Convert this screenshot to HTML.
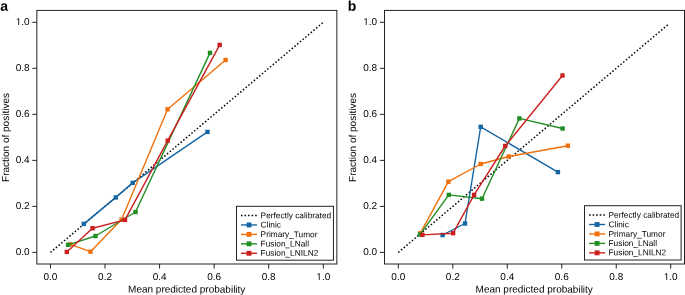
<!DOCTYPE html>
<html><head><meta charset="utf-8"><title>Calibration curves</title><style>
html,body{margin:0;padding:0;background:#fff;}
body{width:685px;height:295px;overflow:hidden;}
svg{display:block;will-change:transform;text-rendering:geometricPrecision;filter:blur(0.3px);}
.t{font-family:"Liberation Sans",sans-serif;font-size:10px;fill:#000;}
.lg{font-family:"Liberation Sans",sans-serif;font-size:8.3px;fill:#000;}
.pl{font-family:"Liberation Sans",sans-serif;font-size:14px;font-weight:bold;fill:#000;}
</style></head><body>
<svg width="685" height="295" viewBox="0 0 685 295">
<rect width="685" height="295" fill="#fff"/>
<defs><clipPath id="c1_0" clipPathUnits="userSpaceOnUse"><path clip-rule="evenodd" d="M-20 -20H40V20H-20Z M-0.3 -1.2H2.48V0.6H-0.3Z M3.43 -1.2H5.52V0.6H3.43Z"/></clipPath><clipPath id="c1_1" clipPathUnits="userSpaceOnUse"><path clip-rule="evenodd" d="M-20 -20H40V20H-20Z M-0.3 -1.2H2.48V0.6H-0.3Z M3.43 -1.2H5.52V0.6H3.43Z"/></clipPath><clipPath id="c1_2" clipPathUnits="userSpaceOnUse"><path clip-rule="evenodd" d="M-20 -20H40V20H-20Z M-0.3 -1.2H2.48V0.6H-0.3Z M3.43 -1.2H5.52V0.6H3.43Z"/></clipPath><clipPath id="c1_3" clipPathUnits="userSpaceOnUse"><path clip-rule="evenodd" d="M-20 -20H40V20H-20Z M-0.3 -1.2H2.48V0.6H-0.3Z M3.43 -1.2H5.52V0.6H3.43Z"/></clipPath></defs>
<line x1="50.45" y1="252.42" x2="323.3" y2="22.3" stroke="#000" stroke-width="1.5" stroke-dasharray="1.5 2.047"/>
<polyline fill="none" stroke="#1566a3" stroke-width="1.4" stroke-linejoin="round" points="83.85,223.9 115.8,197.4 132.7,182.9 207.5,131.9"/>
<rect x="81.65" y="221.7" width="4.4" height="4.4" fill="#1566a3"/>
<rect x="113.6" y="195.2" width="4.4" height="4.4" fill="#1566a3"/>
<rect x="130.5" y="180.7" width="4.4" height="4.4" fill="#1566a3"/>
<rect x="205.3" y="129.7" width="4.4" height="4.4" fill="#1566a3"/>
<polyline fill="none" stroke="#f0700c" stroke-width="1.4" stroke-linejoin="round" points="70.2,244.3 90.5,251.7 121.6,219.6 167.6,109.3 225.6,60"/>
<rect x="68" y="242.1" width="4.4" height="4.4" fill="#f0700c"/>
<rect x="88.3" y="249.5" width="4.4" height="4.4" fill="#f0700c"/>
<rect x="119.4" y="217.4" width="4.4" height="4.4" fill="#f0700c"/>
<rect x="165.4" y="107.1" width="4.4" height="4.4" fill="#f0700c"/>
<rect x="223.4" y="57.8" width="4.4" height="4.4" fill="#f0700c"/>
<polyline fill="none" stroke="#228e24" stroke-width="1.4" stroke-linejoin="round" points="68.1,244.8 95.5,236 135.5,212 210,52.9"/>
<rect x="65.9" y="242.6" width="4.4" height="4.4" fill="#228e24"/>
<rect x="93.3" y="233.8" width="4.4" height="4.4" fill="#228e24"/>
<rect x="133.3" y="209.8" width="4.4" height="4.4" fill="#228e24"/>
<rect x="207.8" y="50.7" width="4.4" height="4.4" fill="#228e24"/>
<polyline fill="none" stroke="#ca2020" stroke-width="1.4" stroke-linejoin="round" points="66.8,251.9 92.5,228.2 125,219.9 167.7,140.6 219.7,44.9"/>
<rect x="64.6" y="249.7" width="4.4" height="4.4" fill="#ca2020"/>
<rect x="90.3" y="226" width="4.4" height="4.4" fill="#ca2020"/>
<rect x="122.8" y="217.7" width="4.4" height="4.4" fill="#ca2020"/>
<rect x="165.5" y="138.4" width="4.4" height="4.4" fill="#ca2020"/>
<rect x="217.5" y="42.7" width="4.4" height="4.4" fill="#ca2020"/>
<rect x="36.85" y="10.4" width="300" height="253.6" fill="none" stroke="#222" stroke-width="1.0"/>
<line x1="32.25" y1="252.42" x2="36.85" y2="252.42" stroke="#222" stroke-width="1.0"/>
<line x1="50.45" y1="264" x2="50.45" y2="268.6" stroke="#222" stroke-width="1.0"/>
<text transform="translate(29.6,255.12) rotate(0.05)" text-anchor="end" class="t">0.0</text>
<text transform="translate(50.45,280) rotate(0.05)" text-anchor="middle" class="t">0.0</text>
<line x1="32.25" y1="206.4" x2="36.85" y2="206.4" stroke="#222" stroke-width="1.0"/>
<line x1="105.02" y1="264" x2="105.02" y2="268.6" stroke="#222" stroke-width="1.0"/>
<text transform="translate(29.6,209.1) rotate(0.05)" text-anchor="end" class="t">0.2</text>
<text transform="translate(105.02,280) rotate(0.05)" text-anchor="middle" class="t">0.2</text>
<line x1="32.25" y1="160.37" x2="36.85" y2="160.37" stroke="#222" stroke-width="1.0"/>
<line x1="159.59" y1="264" x2="159.59" y2="268.6" stroke="#222" stroke-width="1.0"/>
<text transform="translate(29.6,163.07) rotate(0.05)" text-anchor="end" class="t">0.4</text>
<text transform="translate(159.59,280) rotate(0.05)" text-anchor="middle" class="t">0.4</text>
<line x1="32.25" y1="114.35" x2="36.85" y2="114.35" stroke="#222" stroke-width="1.0"/>
<line x1="214.16" y1="264" x2="214.16" y2="268.6" stroke="#222" stroke-width="1.0"/>
<text transform="translate(29.6,117.05) rotate(0.05)" text-anchor="end" class="t">0.6</text>
<text transform="translate(214.16,280) rotate(0.05)" text-anchor="middle" class="t">0.6</text>
<line x1="32.25" y1="68.32" x2="36.85" y2="68.32" stroke="#222" stroke-width="1.0"/>
<line x1="268.73" y1="264" x2="268.73" y2="268.6" stroke="#222" stroke-width="1.0"/>
<text transform="translate(29.6,71.02) rotate(0.05)" text-anchor="end" class="t">0.8</text>
<text transform="translate(268.73,280) rotate(0.05)" text-anchor="middle" class="t">0.8</text>
<line x1="32.25" y1="22.3" x2="36.85" y2="22.3" stroke="#222" stroke-width="1.0"/>
<line x1="323.3" y1="264" x2="323.3" y2="268.6" stroke="#222" stroke-width="1.0"/>
<text transform="translate(15.7,25) rotate(0.05)" class="t" clip-path="url(#c1_0)">1.0</text>
<text transform="translate(316.35,280) rotate(0.05)" class="t" clip-path="url(#c1_1)">1.0</text>
<text transform="translate(186.7,292.6) rotate(0.05)" text-anchor="middle" class="t">Mean predicted probability</text>
<text transform="translate(8.7,137.5) rotate(-90)" text-anchor="middle" class="t">Fraction of positives</text>
<text transform="translate(0.2,10.8) rotate(0.05)" class="pl">a</text>
<rect x="236.5" y="206.3" width="96.95" height="53.9" fill="#fff" stroke="#222" stroke-width="1"/>
<line x1="241" y1="215.5" x2="257" y2="215.5" stroke="#000" stroke-width="1.5" stroke-dasharray="1.5 2.047"/>
<text transform="translate(260.6,218.2) rotate(0.05)" class="lg">Perfectly calibrated</text>
<line x1="241" y1="224.95" x2="257" y2="224.95" stroke="#1566a3" stroke-width="1.4"/>
<rect x="246.55" y="222.5" width="4.9" height="4.9" fill="#1566a3"/>
<text transform="translate(260.6,227.6) rotate(0.05)" class="lg">Clinic</text>
<line x1="241" y1="234.4" x2="257" y2="234.4" stroke="#f0700c" stroke-width="1.4"/>
<rect x="246.55" y="231.95" width="4.9" height="4.9" fill="#f0700c"/>
<text transform="translate(260.6,237.1) rotate(0.05)" class="lg">Primary_Tumor</text>
<line x1="241" y1="243.85" x2="257" y2="243.85" stroke="#228e24" stroke-width="1.4"/>
<rect x="246.55" y="241.4" width="4.9" height="4.9" fill="#228e24"/>
<text transform="translate(260.6,246.4) rotate(0.05)" class="lg">Fusion_LNall</text>
<line x1="241" y1="253.3" x2="257" y2="253.3" stroke="#ca2020" stroke-width="1.4"/>
<rect x="246.55" y="250.85" width="4.9" height="4.9" fill="#ca2020"/>
<text transform="translate(260.6,255.7) rotate(0.05)" class="lg">Fusion_LNILN2</text>
<line x1="398.32" y1="252.42" x2="668.54" y2="24.14" stroke="#000" stroke-width="1.5" stroke-dasharray="1.5 2.047"/>
<polyline fill="none" stroke="#1566a3" stroke-width="1.4" stroke-linejoin="round" points="442.6,235 465,223.5 480.7,126.8 557.9,172.1"/>
<rect x="440.4" y="232.8" width="4.4" height="4.4" fill="#1566a3"/>
<rect x="462.8" y="221.3" width="4.4" height="4.4" fill="#1566a3"/>
<rect x="478.5" y="124.6" width="4.4" height="4.4" fill="#1566a3"/>
<rect x="555.7" y="169.9" width="4.4" height="4.4" fill="#1566a3"/>
<polyline fill="none" stroke="#f0700c" stroke-width="1.4" stroke-linejoin="round" points="420.2,233.3 448.4,181.7 480.7,164 508.8,156.5 567.9,145.7"/>
<rect x="418" y="231.1" width="4.4" height="4.4" fill="#f0700c"/>
<rect x="446.2" y="179.5" width="4.4" height="4.4" fill="#f0700c"/>
<rect x="478.5" y="161.8" width="4.4" height="4.4" fill="#f0700c"/>
<rect x="506.6" y="154.3" width="4.4" height="4.4" fill="#f0700c"/>
<rect x="565.7" y="143.5" width="4.4" height="4.4" fill="#f0700c"/>
<polyline fill="none" stroke="#228e24" stroke-width="1.4" stroke-linejoin="round" points="420.1,234.4 448.8,194.9 482,198.7 519.4,118.4 562.6,128.5"/>
<rect x="417.9" y="232.2" width="4.4" height="4.4" fill="#228e24"/>
<rect x="446.6" y="192.7" width="4.4" height="4.4" fill="#228e24"/>
<rect x="479.8" y="196.5" width="4.4" height="4.4" fill="#228e24"/>
<rect x="517.2" y="116.2" width="4.4" height="4.4" fill="#228e24"/>
<rect x="560.4" y="126.3" width="4.4" height="4.4" fill="#228e24"/>
<polyline fill="none" stroke="#ca2020" stroke-width="1.4" stroke-linejoin="round" points="422.4,234.9 453.1,233.2 474.1,194.9 505.2,146 562.5,75.5"/>
<rect x="420.2" y="232.7" width="4.4" height="4.4" fill="#ca2020"/>
<rect x="450.9" y="231" width="4.4" height="4.4" fill="#ca2020"/>
<rect x="471.9" y="192.7" width="4.4" height="4.4" fill="#ca2020"/>
<rect x="503" y="143.8" width="4.4" height="4.4" fill="#ca2020"/>
<rect x="560.3" y="73.3" width="4.4" height="4.4" fill="#ca2020"/>
<rect x="384.5" y="10.4" width="300" height="253.6" fill="none" stroke="#222" stroke-width="1.0"/>
<line x1="379.9" y1="252.42" x2="384.5" y2="252.42" stroke="#222" stroke-width="1.0"/>
<line x1="398.32" y1="264" x2="398.32" y2="268.6" stroke="#222" stroke-width="1.0"/>
<text transform="translate(377.1,255.12) rotate(0.05)" text-anchor="end" class="t">0.0</text>
<text transform="translate(398.32,280) rotate(0.05)" text-anchor="middle" class="t">0.0</text>
<line x1="379.9" y1="206.4" x2="384.5" y2="206.4" stroke="#222" stroke-width="1.0"/>
<line x1="452.8" y1="264" x2="452.8" y2="268.6" stroke="#222" stroke-width="1.0"/>
<text transform="translate(377.1,209.1) rotate(0.05)" text-anchor="end" class="t">0.2</text>
<text transform="translate(452.8,280) rotate(0.05)" text-anchor="middle" class="t">0.2</text>
<line x1="379.9" y1="160.37" x2="384.5" y2="160.37" stroke="#222" stroke-width="1.0"/>
<line x1="507.28" y1="264" x2="507.28" y2="268.6" stroke="#222" stroke-width="1.0"/>
<text transform="translate(377.1,163.07) rotate(0.05)" text-anchor="end" class="t">0.4</text>
<text transform="translate(507.28,280) rotate(0.05)" text-anchor="middle" class="t">0.4</text>
<line x1="379.9" y1="114.35" x2="384.5" y2="114.35" stroke="#222" stroke-width="1.0"/>
<line x1="561.76" y1="264" x2="561.76" y2="268.6" stroke="#222" stroke-width="1.0"/>
<text transform="translate(377.1,117.05) rotate(0.05)" text-anchor="end" class="t">0.6</text>
<text transform="translate(561.76,280) rotate(0.05)" text-anchor="middle" class="t">0.6</text>
<line x1="379.9" y1="68.32" x2="384.5" y2="68.32" stroke="#222" stroke-width="1.0"/>
<line x1="616.24" y1="264" x2="616.24" y2="268.6" stroke="#222" stroke-width="1.0"/>
<text transform="translate(377.1,71.02) rotate(0.05)" text-anchor="end" class="t">0.8</text>
<text transform="translate(616.24,280) rotate(0.05)" text-anchor="middle" class="t">0.8</text>
<line x1="379.9" y1="22.3" x2="384.5" y2="22.3" stroke="#222" stroke-width="1.0"/>
<line x1="670.72" y1="264" x2="670.72" y2="268.6" stroke="#222" stroke-width="1.0"/>
<text transform="translate(363.2,25) rotate(0.05)" class="t" clip-path="url(#c1_2)">1.0</text>
<text transform="translate(663.77,280) rotate(0.05)" class="t" clip-path="url(#c1_3)">1.0</text>
<text transform="translate(534.2,292.6) rotate(0.05)" text-anchor="middle" class="t">Mean predicted probability</text>
<text transform="translate(356.2,137.5) rotate(-90)" text-anchor="middle" class="t">Fraction of positives</text>
<text transform="translate(347.7,10.8) rotate(0.05)" class="pl">b</text>
<rect x="584.5" y="205.7" width="96.6" height="54.3" fill="#fff" stroke="#222" stroke-width="1"/>
<line x1="589.1" y1="215.05" x2="605.1" y2="215.05" stroke="#000" stroke-width="1.5" stroke-dasharray="1.5 2.047"/>
<text transform="translate(608.55,217.75) rotate(0.05)" class="lg">Perfectly calibrated</text>
<line x1="589.1" y1="224.5" x2="605.1" y2="224.5" stroke="#1566a3" stroke-width="1.4"/>
<rect x="594.65" y="222.05" width="4.9" height="4.9" fill="#1566a3"/>
<text transform="translate(608.55,227.15) rotate(0.05)" class="lg">Clinic</text>
<line x1="589.1" y1="233.95" x2="605.1" y2="233.95" stroke="#f0700c" stroke-width="1.4"/>
<rect x="594.65" y="231.5" width="4.9" height="4.9" fill="#f0700c"/>
<text transform="translate(608.55,236.65) rotate(0.05)" class="lg">Primary_Tumor</text>
<line x1="589.1" y1="243.4" x2="605.1" y2="243.4" stroke="#228e24" stroke-width="1.4"/>
<rect x="594.65" y="240.95" width="4.9" height="4.9" fill="#228e24"/>
<text transform="translate(608.55,245.95) rotate(0.05)" class="lg">Fusion_LNall</text>
<line x1="589.1" y1="252.85" x2="605.1" y2="252.85" stroke="#ca2020" stroke-width="1.4"/>
<rect x="594.65" y="250.4" width="4.9" height="4.9" fill="#ca2020"/>
<text transform="translate(608.55,255.25) rotate(0.05)" class="lg">Fusion_LNILN2</text>
</svg>
</body></html>
